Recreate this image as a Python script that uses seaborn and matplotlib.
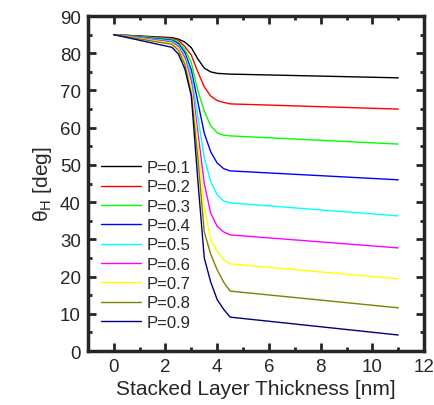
import numpy as np
import pandas as pd
import matplotlib
matplotlib.use("Agg")
import matplotlib.pyplot as plt
from matplotlib.ticker import MultipleLocator
import seaborn as sns

# thickness grid (nm) and theta_H curves (deg)
thickness = [0, 2.25, 2.5, 2.75, 3.0, 3.25, 3.5, 3.75, 4.0, 4.25, 4.5, 11]
p_labels = ["P=0.1", "P=0.2", "P=0.3", "P=0.4", "P=0.5", "P=0.6", "P=0.7", "P=0.8", "P=0.9"]
p01 = [85, 84.2, 83.8, 83.0, 81.5, 78.5, 76.0, 75.0, 74.6, 74.5, 74.4, 73.4]
p02 = [85, 84.0, 83.5, 81.8, 79.5, 75.0, 71.0, 68.5, 67.3, 66.8, 66.4, 65.0]
p03 = [85, 83.8, 83.0, 81.0, 77.5, 70.0, 64.5, 60.5, 58.6, 58.0, 57.8, 55.6]
p04 = [85, 83.5, 82.6, 80.2, 75.5, 67.0, 58.5, 53.5, 50.5, 49.0, 48.4, 46.0]
p05 = [85, 83.3, 82.2, 79.5, 74.0, 63.0, 52.0, 45.5, 42.0, 40.3, 39.8, 36.3]
p06 = [85, 83.0, 81.8, 78.8, 72.5, 59.0, 45.0, 37.0, 33.5, 32.0, 31.2, 27.7]
p07 = [85, 82.7, 81.4, 78.0, 71.0, 56.0, 38.5, 30.0, 26.8, 24.5, 23.4, 19.4]
p08 = [85, 82.4, 80.8, 77.0, 69.0, 52.0, 32.0, 26.0, 21.8, 18.5, 16.1, 11.6]
p09 = [85, 81.6, 79.8, 75.8, 68.5, 46.0, 25.0, 18.5, 13.8, 11.2, 9.1, 4.3]
colors = ["#000000", "#ff0000", "#00ff00", "#0000ff", "#00ffff",
          "#ff00ff", "#ffff00", "#808000", "#000080"]

curves = [p01, p02, p03, p04, p05, p06, p07, p08, p09]
df = pd.concat([pd.DataFrame({"t": thickness, "theta": c, "P": lab})
                for lab, c in zip(p_labels, curves)], ignore_index=True)

sns.set_style("ticks")
plt.rcParams['font.family'] = ['Liberation Sans', 'DejaVu Sans']

fig = plt.figure(figsize=(4.35, 4.06), dpi=100)
ax = fig.add_axes([0.202, 0.133, 0.773, 0.825])

sns.lineplot(data=df, x="t", y="theta", hue="P", hue_order=p_labels,
             palette=colors, linewidth=1.0, ax=ax, sort=False, estimator=None)

ax.set_xlim(-1, 12)
ax.set_ylim(0, 90)
ax.xaxis.set_major_locator(MultipleLocator(2))
ax.xaxis.set_minor_locator(MultipleLocator(1))
ax.yaxis.set_major_locator(MultipleLocator(10))
ax.yaxis.set_minor_locator(MultipleLocator(5))
ax.tick_params(which="both", direction="in", top=True, right=True, width=2)
ax.tick_params(which="major", length=6, labelsize=13.5, pad=5)
ax.tick_params(which="minor", length=3)
for s in ax.spines.values():
    s.set_linewidth(2.5)

ax.set_xlabel("Stacked Layer Thickness [nm]", fontsize=15, labelpad=3)
ax.set_ylabel("θ$_\\mathregular{H}$ [deg]", fontsize=15, labelpad=4)

ax.legend(frameon=False, loc="upper left", bbox_to_anchor=(-0.005, 0.615),
          fontsize=12, handlelength=2.4, labelspacing=0.26, handletextpad=0.35)

fig.savefig("out.png", dpi=100)
